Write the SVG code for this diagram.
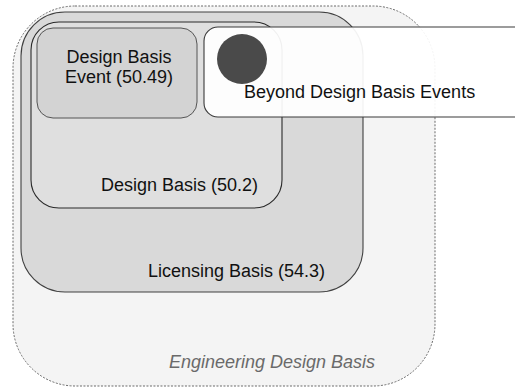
<svg xmlns="http://www.w3.org/2000/svg" width="515" height="388" viewBox="0 0 515 388">
  <style>
    .lbl { font-family: "Liberation Sans", Arial, sans-serif; font-size: 18px; fill: #111111; }
    .it { font-style: italic; fill: #6a6a6a; }
  </style>
  <rect width="515" height="388" fill="#ffffff"/>
  <g id="engineering-design-basis">
    <rect x="13" y="6" width="422" height="380" rx="62" ry="62" fill="#f4f4f4" stroke="#6a6a6a" stroke-width="1" stroke-dasharray="2 1.5"/>
    <text class="lbl it" x="272" y="368" text-anchor="middle">Engineering Design Basis</text>
  </g>
  <g id="licensing-basis">
    <rect x="21" y="12" width="342" height="280" rx="44" ry="44" fill="#d9d9d9" stroke="#404040" stroke-width="1.1"/>
    <text class="lbl" x="325" y="277" text-anchor="end">Licensing Basis (54.3)</text>
  </g>
  <g id="design-basis">
    <rect x="31" y="22" width="251" height="186" rx="28" ry="28" fill="#dfdfdf" stroke="#2a2a2a" stroke-width="1.1"/>
    <text class="lbl" x="258" y="191" text-anchor="end">Design Basis (50.2)</text>
  </g>
  <g id="design-basis-event">
    <rect x="37" y="28" width="160" height="90" rx="16" ry="16" fill="#d3d3d3" stroke="#555" stroke-width="1"/>
    <text class="lbl" x="119" y="63" text-anchor="middle">Design Basis</text>
    <text class="lbl" x="119" y="83" text-anchor="middle">Event (50.49)</text>
  </g>
  <g id="beyond-design-basis-events">
    <rect x="204" y="27" width="330" height="90" rx="14" ry="14" fill="#ffffff" fill-opacity="0.93" stroke="#3a3a3a" stroke-width="1.1"/>
    <circle cx="242" cy="59" r="25" fill="#4a4a4a"/>
    <text class="lbl" x="244" y="98">Beyond Design Basis Events</text>
  </g>
  <g id="connectors"/>
</svg>
